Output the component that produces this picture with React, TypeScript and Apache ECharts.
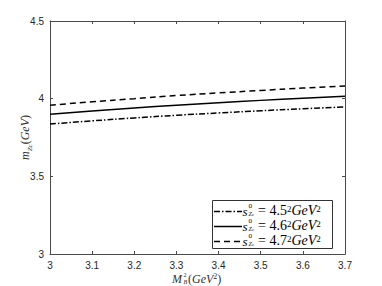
import React, { useEffect, useRef } from "react";
import * as echarts from "echarts";

const xs = [3.0, 3.1, 3.2, 3.3, 3.4, 3.5, 3.6, 3.7];
const s45 = [3.837, 3.857, 3.876, 3.893, 3.908, 3.922, 3.935, 3.947];
const s46 = [3.9, 3.921, 3.94, 3.958, 3.974, 3.989, 4.002, 4.015];
const s47 = [3.957, 3.98, 4.0, 4.02, 4.037, 4.053, 4.068, 4.082];
const legendValues = ["4.5", "4.6", "4.7"];

const AX = "#4a4a4a";
const SERIF = "'Liberation Serif', 'DejaVu Serif', serif";
const SANS = "'Liberation Sans', Arial, sans-serif";

function pairs(v: number[]) {
  return xs.map((x, i) => [x, v[i]]);
}

const dashes: any[] = [[6, 2, 1.5, 2], "solid", [6, 4]];

export default function App() {
  const ref = useRef<HTMLDivElement>(null);
  useEffect(() => {
    if (!ref.current) return;
    const chart = echarts.init(ref.current, null, { renderer: "svg" });
    const rows = [210.5, 225.5, 240.5];
    const legendGraphics: any[] = [
      {
        type: "rect",
        shape: { x: 212.5, y: 200.5, width: 120, height: 48 },
        style: { fill: "#fff", stroke: "#333", lineWidth: 1 },
        z: 100,
      },
    ];
    rows.forEach((ry, i) => {
      legendGraphics.push({
        type: "line",
        shape: { x1: 214, y1: ry + 1, x2: 242, y2: ry + 1 },
        style: {
          stroke: "#000",
          lineWidth: 1.5,
          lineDash: dashes[i] === "solid" ? null : dashes[i],
        },
        z: 101,
      });
      legendGraphics.push({
        type: "text",
        x: 242.5,
        y: ry + 0.5,
        style: {
          text: "s",
          font: `italic 13px ${SERIF}`,
          fill: "#000",
          verticalAlign: "middle",
        },
        z: 101,
      });
      legendGraphics.push({
        type: "text",
        x: 248.5,
        y: ry - 5,
        style: {
          text: "0",
          font: `7px ${SERIF}`,
          fill: "#000",
          verticalAlign: "middle",
        },
        z: 101,
      });
      legendGraphics.push({
        type: "text",
        x: 248.5,
        y: ry + 3.5,
        style: {
          text: "{z|Z}{c|c}",
          fill: "#000",
          verticalAlign: "middle",
          rich: {
            z: { font: `italic 6px ${SERIF}`, verticalAlign: "top", lineHeight: 6 },
            c: { font: `italic 5px ${SERIF}`, verticalAlign: "bottom", lineHeight: 6 },
          },
        },
        z: 101,
      });
      legendGraphics.push({
        type: "text",
        x: 258,
        y: ry + 0.5,
        style: {
          text: `{r|= ${legendValues[i]}}{sp|2}{i|GeV}{sp|2}`,
          fill: "#000",
          verticalAlign: "middle",
          rich: {
            r: { font: `14px ${SERIF}`, lineHeight: 13, verticalAlign: "bottom" },
            i: { font: `italic 14px ${SERIF}`, lineHeight: 13, verticalAlign: "bottom" },
            sp: { font: `9px ${SERIF}`, lineHeight: 13, verticalAlign: "top" },
          },
        },
        z: 101,
      });
    });

    const axisNames: any[] = [
      {
        type: "text",
        x: 25,
        y: 137.5,
        rotation: Math.PI / 2,
        style: {
          text: "{m|m}{sub|Zc}{r|(}{i|GeV}{r|)}",
          fill: "#333",
          align: "center",
          verticalAlign: "middle",
          rich: {
            m: { font: `italic 12px ${SERIF}`, lineHeight: 16, verticalAlign: "middle" },
            sub: { font: `italic 7px ${SERIF}`, lineHeight: 16, verticalAlign: "bottom" },
            r: { font: `12px ${SERIF}`, lineHeight: 16, verticalAlign: "middle" },
            i: { font: `italic 12px ${SERIF}`, lineHeight: 16, verticalAlign: "middle" },
          },
        },
      },
      {
        type: "text",
        x: 172,
        y: 278.5,
        style: {
          text: "M",
          font: `italic 12px ${SERIF}`,
          fill: "#333",
          verticalAlign: "middle",
        },
      },
      {
        type: "text",
        x: 183.5,
        y: 275,
        style: { text: "2", font: `6px ${SERIF}`, fill: "#333", verticalAlign: "middle" },
      },
      {
        type: "text",
        x: 183.5,
        y: 281.5,
        style: { text: "B", font: `italic 6px ${SERIF}`, fill: "#333", verticalAlign: "middle" },
      },
      {
        type: "text",
        x: 188,
        y: 278.5,
        style: {
          text: "{r|(}{i|GeV}{sp|2}{r|)}",
          fill: "#333",
          verticalAlign: "middle",
          rich: {
            r: { font: `12px ${SERIF}`, lineHeight: 12, verticalAlign: "bottom" },
            i: { font: `italic 12px ${SERIF}`, lineHeight: 12, verticalAlign: "bottom" },
            sp: { font: `8px ${SERIF}`, lineHeight: 12, verticalAlign: "top" },
          },
        },
      },
    ];

    const tickFmt = (v: number) => String(+v.toFixed(1));

    const mkX = (position: string, labels: boolean) => ({
      type: "value",
      min: 3,
      max: 3.7,
      interval: 0.1,
      position,
      axisLine: { show: true, lineStyle: { color: AX, width: 1 } },
      axisTick: { show: true, inside: true, length: 3, lineStyle: { color: AX } },
      axisLabel: labels
        ? { formatter: tickFmt, color: "#262626", fontSize: 10, fontFamily: SANS, margin: 6 }
        : { show: false },
      splitLine: { show: false },
    });
    const mkY = (position: string, labels: boolean) => ({
      type: "value",
      min: 3,
      max: 4.5,
      interval: 0.5,
      position,
      axisLine: { show: true, lineStyle: { color: AX, width: 1 } },
      axisTick: { show: true, inside: true, length: 3, lineStyle: { color: AX } },
      axisLabel: labels
        ? { formatter: tickFmt, color: "#262626", fontSize: 10, fontFamily: SANS, margin: 6 }
        : { show: false },
      splitLine: { show: false },
    });

    const mkSeries = (name: string, v: number[], type: any) => ({
      name,
      type: "line",
      data: pairs(v),
      showSymbol: false,
      symbol: "none",
      smooth: true,
      lineStyle: { color: "#000", width: 1.5, type },
    });

    const option: any = {
      animation: false,
      backgroundColor: "#fff",
      grid: { left: 50, right: 37, top: 21, bottom: 32, containLabel: false },
      xAxis: [mkX("bottom", true), mkX("top", false)],
      yAxis: [mkY("left", true), mkY("right", false)],
      series: [
        mkSeries("4.5", s45, dashes[0]),
        mkSeries("4.6", s46, "solid"),
        mkSeries("4.7", s47, dashes[2]),
      ],
      graphic: [...axisNames, ...legendGraphics],
    };
    chart.setOption(option);
    return () => chart.dispose();
  }, []);
  return (
    <div
      ref={ref}
      style={{ position: "fixed", left: 0, top: 0, width: 382, height: 286 }}
    />
  );
}
